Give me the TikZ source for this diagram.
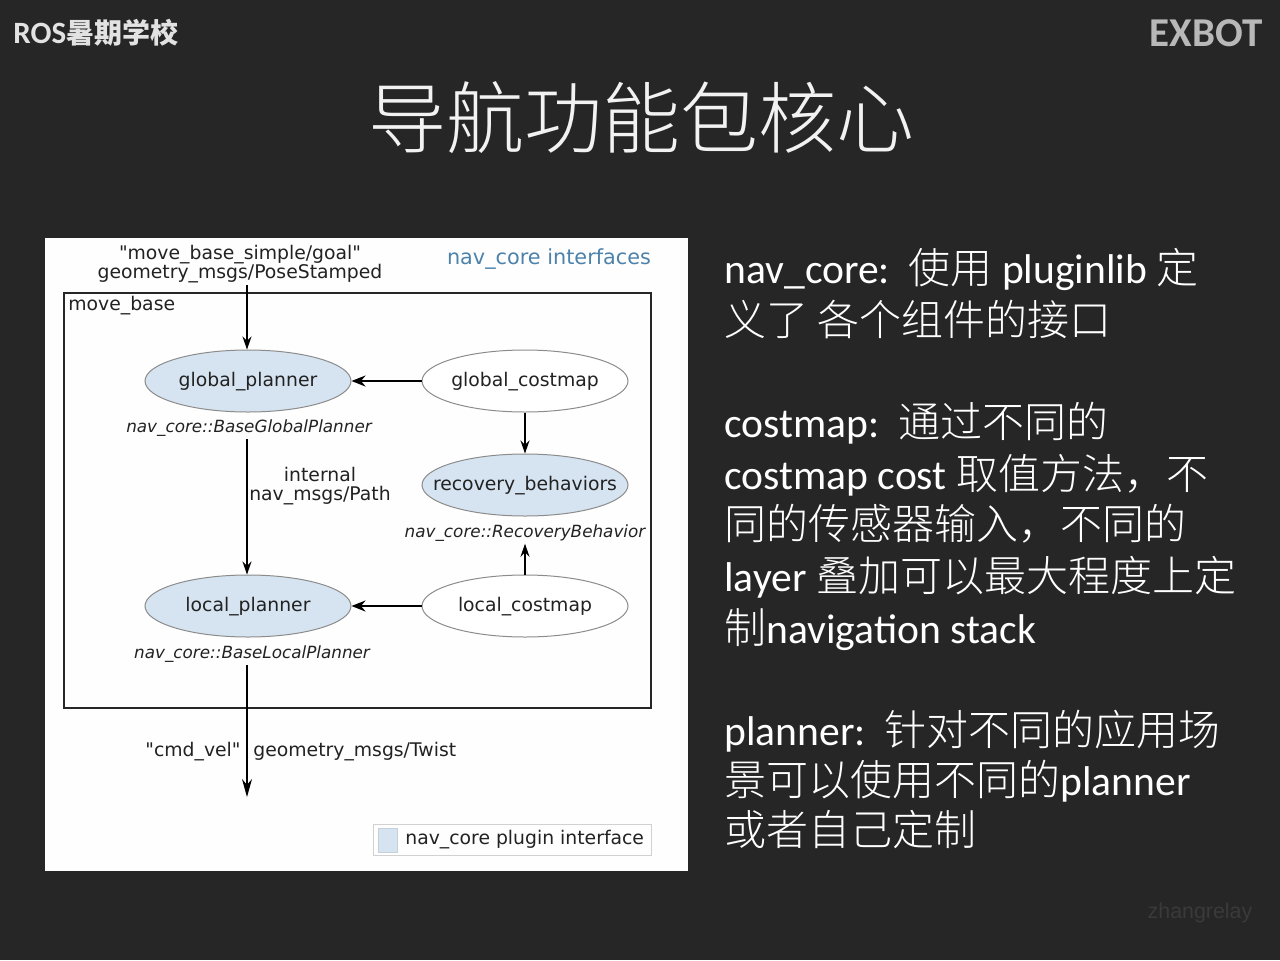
\documentclass[tikz,border=0pt]{standalone}
\usepackage{fontspec}
\setmainfont{Carlito}
\newfontfamily\cjk{Noto Sans CJK SC}
\newfontfamily\cjkl{Noto Sans CJK SC Light}
\newfontfamily\dv{DejaVu Sans}
\newfontfamily\lib{Liberation Sans}
\usetikzlibrary{shapes.geometric,arrows.meta}
\definecolor{bgc}{HTML}{262626}
\definecolor{titlec}{HTML}{F2F2F2}
\definecolor{hdr}{HTML}{E2E2E2}
\definecolor{exb}{HTML}{B8B8B8}
\definecolor{wm}{HTML}{3A3A3A}
\definecolor{plug}{HTML}{D6E4F1}
\definecolor{ell}{HTML}{8C8C8C}
\definecolor{ifblue}{HTML}{4D82AB}
\definecolor{txt}{HTML}{222222}
\newcommand\zh[1]{{\cjkl\fontsize{21pt}{25pt}\selectfont #1}}
\tikzset{
  diag/.style={font=\dv\fontsize{9.4pt}{9.6pt}\selectfont, text=txt},
  ellbase/.style={ellipse, draw=ell, line width=0.5pt, minimum width=103pt, minimum height=31pt, inner xsep=-12pt, inner ysep=0pt, text height=7pt, text depth=1.2pt, diag},
  plugin/.style={ellbase, fill=plug},
  plainnode/.style={ellbase, fill=white},
  iface/.style={font=\dv\itshape\fontsize{8.4pt}{9pt}\selectfont, text=txt, inner sep=1pt},
  lbl/.style={diag, inner sep=1pt, align=center},
  arr/.style={draw=black, line width=0.55pt, -{Stealth[length=6.5pt,width=4.5pt]}},
  arrthick/.style={draw=black, line width=1pt, -{Stealth[length=7pt,width=5.5pt]}},
  rtext/.style={anchor=base west, text=white, font=\fontsize{20.8pt}{25pt}\selectfont, inner sep=0pt},
}
\begin{document}
\begin{tikzpicture}[x=0.5pt,y=-0.5pt]
\useasboundingbox (0,0) rectangle (1280,960);
\fill[bgc] (0,0) rectangle (1280,960);
% header
\node[anchor=west, text=hdr, font=\bfseries\fontsize{15.5pt}{17pt}\selectfont, inner sep=0pt] (ros) at (13,33) {ROS{\cjk\bfseries\fontsize{14pt}{16pt}\selectfont 暑期学校}};
\node[anchor=east, text=exb, font=\bfseries\fontsize{20.5pt}{22pt}\selectfont, inner sep=0pt] (exbot) at (1263,33) {EXBOT};
\node[text=titlec, font=\cjkl\fontsize{39pt}{40pt}\selectfont] (title) at (641,118) {导航功能包核心};
\node[text=wm, font=\lib\fontsize{10.7pt}{12pt}\selectfont] (wmk) at (1200,913) {zhangrelay};
% diagram panel
\fill[white!99!gray] (45,238) rectangle (688,871);
\node[draw=black!85, line width=1.2pt, minimum width=293.5pt, minimum height=207.5pt, inner sep=0pt] (mb) at (357.5,500.5) {};
\node[diag, anchor=north west, inner sep=0pt] (mbl) at (68,296) {move\_base};
\node[text=ifblue, font=\dv\fontsize{10.4pt}{11pt}\selectfont, inner sep=0pt] (ifl) at (549,259) {nav\_core interfaces};
\node[lbl] (goal) at (240,264) {"move\_base\_simple/goal"\\geometry\_msgs/PoseStamped};
\node[plugin] (gp) at (248,381) {global\_planner};
\node[plainnode] (gc) at (525,381) {global\_costmap};
\node[plugin] (rb) at (525,485) {recovery\_behaviors};
\node[plugin] (lp) at (248,606) {local\_planner};
\node[plainnode] (lc) at (525,606) {local\_costmap};
\node[iface] (gpi) at (249,428) {nav\_core::BaseGlobalPlanner};
\node[iface] (rbi) at (525,533) {nav\_core::RecoveryBehavior};
\node[iface] (lpi) at (252,654) {nav\_core::BaseLocalPlanner};
\node[lbl] (path) at (320,486) {internal\\nav\_msgs/Path};
\coordinate (gx) at (247,0);
\coordinate (out) at (247,797);
\draw[arr] (goal.south -| gx) -- (gp.north -| gx);
\draw[arrthick] (gc.west) -- (gp.east);
\draw[arr] (gc.south) -- (rb.north);
\draw[arr] (lc.north) -- (rbi.south);
\draw[arrthick] (lc.west) -- (lp.east);
\draw[arr] (gpi.south -| gx) -- (lp.north -| gx);
\draw[draw=black, line width=0.55pt, -{Stealth[length=9pt,width=5pt]}] (lpi.south -| gx) -- (out);
\node[diag, anchor=east, inner sep=0pt] (cv) at (241,752) {"cmd\_vel"};
\node[diag, anchor=west, inner sep=0pt] (tw) at (253,752) {geometry\_msgs/Twist};
% legend
\draw[black!18, line width=0.5pt] (373,824) rectangle (651,855);
\node[fill=plug, draw=plug!80!gray, line width=0.3pt, minimum width=9.5pt, minimum height=12pt, inner sep=0pt] (sq) at (387.5,840) {};
\node[diag, anchor=west, inner sep=0pt] (legt) at (405,840) {nav\_core plugin interface};
% right text
\node[rtext] (t1) at (724,283) {nav\_core:\hspace{0.45em}\zh{使用} pluginlib \zh{定}};
\node[rtext] (t2) at (724,335) {\zh{义了 各个组件的接口}};
\node[rtext] (t3) at (724,437) {costmap:\hspace{0.45em}\zh{通过不同的}};
\node[rtext] (t4) at (724,489) {costmap cost \zh{取值方法，不}};
\node[rtext] (t5) at (724,539) {\zh{同的传感器输入，不同的}};
\node[rtext] (t6) at (724,591) {layer \zh{叠加可以最大程度上定}};
\node[rtext] (t7) at (724,643) {\zh{制}navigation stack};
\node[rtext] (t8) at (724,745) {planner:\hspace{0.45em}\zh{针对不同的应用场}};
\node[rtext] (t9) at (724,795) {\zh{景可以使用不同的}planner};
\node[rtext] (t10) at (724,845) {\zh{或者自己定制}};
\end{tikzpicture}
\end{document}
